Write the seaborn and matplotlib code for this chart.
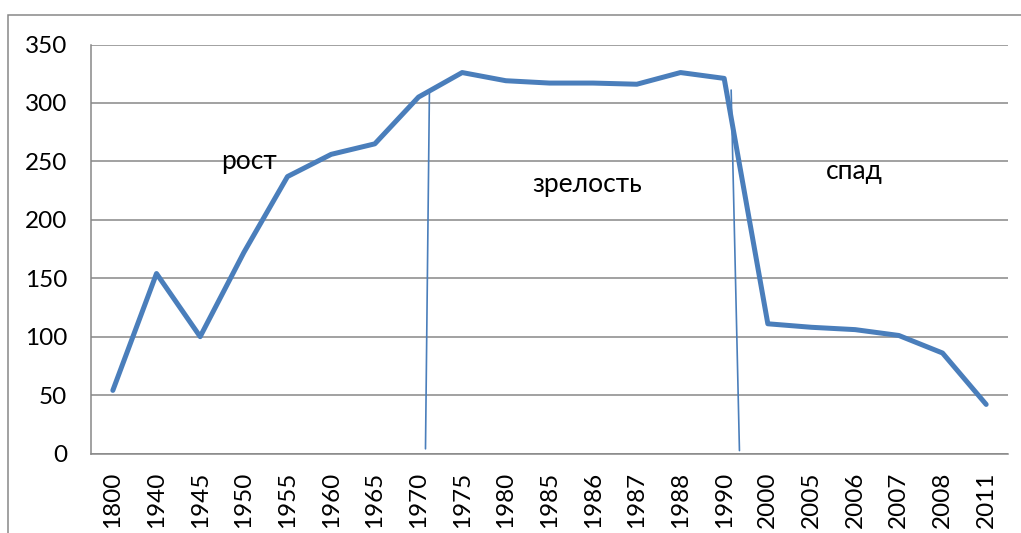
import numpy as np
import pandas as pd
import seaborn as sns
import matplotlib.pyplot as plt
from matplotlib.patches import Rectangle

years = ["1800", "1940", "1945", "1950", "1955", "1960", "1965", "1970", "1975",
         "1980", "1985", "1986", "1987", "1988", "1990", "2000", "2005", "2006",
         "2007", "2008", "2011"]
values = [54, 154, 100, 172, 237, 256, 265, 305, 326, 319, 317, 317, 316, 326,
          321, 111, 108, 106, 101, 86, 42]

# hand drawn phase borders (x in category units, y in data units)
border1_x = [7.16, 7.25]
border1_y = [4, 309]
border2_x = [14.35, 14.16]
border2_y = [2.5, 311]

phase_labels = ["рост", "зрелость", "спад"]
phase_x = [3.12, 10.87, 16.97]
phase_y = [250, 230, 241]

sns.set_style("white")
plt.rcParams['font.family'] = ['Lato', 'DejaVu Sans']

df = pd.DataFrame({"year": years, "value": values})

fig = plt.figure(figsize=(10.21, 5.33), dpi=100)
ax = fig.add_axes([91/1021, 1-453.5/533, (1008-91)/1021, (453.5-44.5)/533])

blue = "#4a7ebb"
sns.lineplot(data=df, x="year", y="value", ax=ax, color=blue, linewidth=3.6,
             sort=False)

ax.plot(border1_x, border1_y, color=blue, linewidth=1.2)
ax.plot(border2_x, border2_y, color=blue, linewidth=1.2)

for t, x, y in zip(phase_labels, phase_x, phase_y):
    ax.text(x, y, t, ha="center", va="center", fontsize=19, color="black")

ax.set_xlim(-0.5, len(years) - 0.5)
ax.set_ylim(0, 350)
ax.set_yticks(range(0, 351, 50))
ax.grid(axis="y", color="#878787", linewidth=1.1)
ax.grid(axis="x", visible=False)
ax.set_axisbelow(True)
ax.set_xlabel("")
ax.set_ylabel("")

for s in ["top", "right"]:
    ax.spines[s].set_visible(False)
ax.spines["left"].set_color("#878787")
ax.spines["bottom"].set_color("#878787")
ax.spines["left"].set_linewidth(1.1)
ax.spines["bottom"].set_linewidth(1.1)

ax.tick_params(axis="y", length=0, pad=17, labelsize=17.5, labelcolor="black")
ax.tick_params(axis="x", length=0, pad=13, labelsize=17.5, labelcolor="black",
               rotation=90)

# outer chart frame
fig.patches.append(Rectangle((8/1021, -0.1), 1.2, 1.1 - 15/533,
                             transform=fig.transFigure, fill=False,
                             edgecolor="#878787", linewidth=1.1))

fig.savefig("out.png", dpi=100)
